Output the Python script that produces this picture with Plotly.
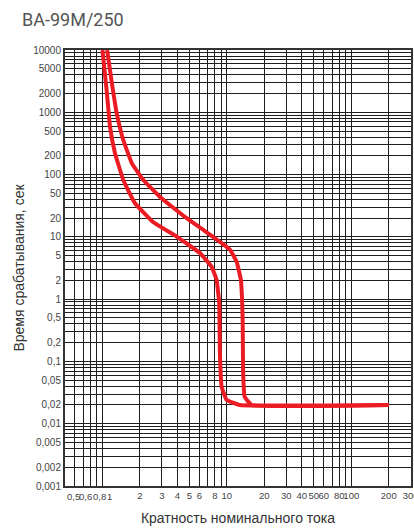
import math
import plotly.graph_objects as go

# Data (multiples of rated current, trip time in s)
lower_x = [1.0, 1.08, 1.15, 1.26, 1.47, 1.82, 2.55, 3.95, 6.07, 7.54, 8.27, 8.68, 8.79, 9.07, 9.95, 12.7, 200]
lower_t = [10000, 2280, 587, 222, 82, 35, 17.3, 10.1, 5.5, 3.3, 2.03, 0.87, 0.137, 0.0394, 0.0241, 0.02, 0.02]

upper_x = [1.09, 1.19, 1.30, 1.47, 1.72, 2.13, 2.90, 4.60, 6.66, 8.79, 10.6, 12.0, 12.96, 13.4, 13.5, 13.9, 15.8, 200]
upper_t = [10000, 2950, 975, 359, 153, 82, 43.7, 20.9, 12.4, 8.3, 6.2, 3.95, 2.03, 0.46, 0.073, 0.027, 0.02, 0.02]

x_grid = [0.5, 0.6, 0.7, 0.8, 0.9, 1, 2, 3, 4, 5, 6, 7, 8, 9, 10,
          20, 30, 40, 50, 60, 70, 80, 90, 100, 200, 300]
x_labels = {2: "2", 3: "3", 4: "4", 5: "5",
            6: "6", 8: "8", 10: "10", 20: "20", 30: "30", 40: "40", 50: "50", 60: "60",
            80: "80", 100: "100", 200: "200", 300: "300"}
# crowded low labels, drawn left-aligned at their grid values like the reference
x_low_vals = [0.5, 0.6, 0.8, 1]
x_low_text = ["0,5", "0,6", "0,8", "1"]

y_grid = [m * 10.0 ** e for e in range(-3, 4) for m in range(1, 10)] + [10000]
y_labels = {10000: "10000", 5000: "5000", 2000: "2000", 1000: "1000", 500: "500", 200: "200",
            100: "100", 50: "50", 20: "20", 10: "10", 5: "5", 2: "2", 1: "1", 0.5: "0,5",
            0.2: "0,2", 0.1: "0,1", 0.05: "0,05", 0.02: "0,02", 0.01: "0,01",
            0.005: "0,005", 0.002: "0,002", 0.001: "0,001"}


def lab(d, v):
    for k, s in d.items():
        if abs(k - v) / k < 1e-6:
            return s
    return ""


red = "rgb(236,28,36)"
fig = go.Figure()
for xs, ts in [(lower_x, lower_t), (upper_x, upper_t)]:
    fig.add_trace(go.Scatter(x=xs, y=ts, mode="lines",
                             line=dict(color=red, width=4, shape="spline", smoothing=0.3),
                             showlegend=False, hoverinfo="skip"))

tick_font = dict(family="Liberation Sans, Arial, sans-serif", size=10, color="#444")
xtick_font = dict(family="Liberation Sans, Arial, sans-serif", size=9.5, color="#444")
title_font = dict(family="Liberation Sans, Arial, sans-serif", size=14, color="#333")

for v, t, sh in zip(x_low_vals, x_low_text, [0, 2, 1, 3]):
    fig.add_annotation(x=math.log10(v), xref="x", y=0, yref="paper", text=t,
                       xanchor="left", yanchor="top", xshift=sh, yshift=-3,
                       showarrow=False, font=xtick_font)

fig.update_xaxes(type="log", range=[math.log10(0.5), math.log10(302)],
                 tickvals=x_grid, ticktext=[lab(x_labels, v) for v in x_grid],
                 tickangle=0, automargin=False, ticklabeloverflow="allow",
                 showgrid=True, gridcolor="#1e1e1e", gridwidth=1,
                 showline=True, linecolor="#333", linewidth=2, mirror=True,
                 ticks="", zeroline=False, tickfont=xtick_font,
                 title=dict(text="Кратность номинального тока", standoff=13, font=title_font))
fig.update_yaxes(type="log", range=[-3, 4],
                 tickvals=y_grid, ticktext=[lab(y_labels, v) for v in y_grid],
                 automargin=False,
                 showgrid=True, gridcolor="#1e1e1e", gridwidth=1,
                 showline=True, linecolor="#333", linewidth=2, mirror=True,
                 ticks="", zeroline=False, tickfont=tick_font,
                 title=dict(text="Время срабатывания, сек", standoff=5, font=title_font))

fig.update_layout(
    width=414, height=532,
    margin=dict(l=65, r=3, t=50, b=46, autoexpand=False),
    paper_bgcolor="white", plot_bgcolor="white",
    title=dict(text="ВА-99М/250", x=22 / 414, xref="container", xanchor="left",
               y=1 - 20 / 532, yref="container", yanchor="middle",
               font=dict(family="Roboto, Arial, sans-serif", size=18, color="#555")),
)

fig.write_html("out.html", config={"displayModeBar": False},
               post_script="document.body.style.margin='0';document.body.style.overflow='hidden';")
